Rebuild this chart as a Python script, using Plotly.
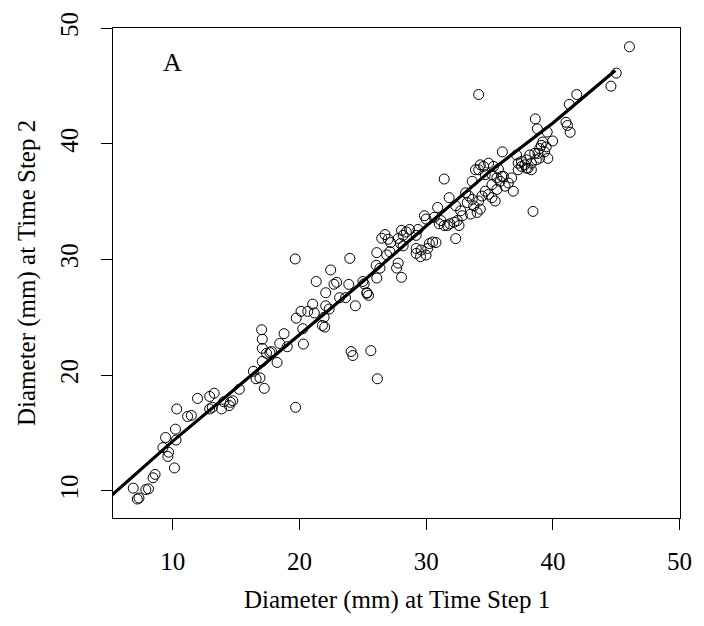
import plotly.graph_objects as go

# Diameter (mm) at time step 1 and time step 2
diam_step1 = [
    6.88, 7.20, 7.33, 7.87, 8.08, 8.44, 8.60, 10.13, 9.22, 9.43, 9.61, 9.67, 10.21, 10.26, 10.31,
    11.17, 11.46, 11.95, 12.91, 13.27, 12.91, 13.12, 13.85, 14.03, 14.55, 14.73, 14.45, 15.25, 16.36,
    16.57, 16.88, 17.22, 17.01, 17.06, 17.06, 17.06, 17.40, 17.66, 17.79, 18.23, 18.44, 18.78, 19.03,
    19.69, 19.74, 20.12, 20.26, 20.31, 20.65, 21.04, 21.17, 21.81, 21.99, 21.94, 22.07, 22.34, 22.07,
    23.16, 23.63, 24.07, 24.21, 25.63, 26.15, 24.41, 25.32,
    19.66, 23.97, 22.46, 21.32, 22.72, 22.93, 23.89, 25.00, 25.10, 25.32, 25.45, 26.05, 26.35, 26.10, 26.10,
    26.75, 26.49, 27.00, 27.19, 26.88, 27.13, 27.79, 28.18, 28.05, 28.43, 28.69, 27.97, 28.18, 27.66, 27.79, 28.05,
    29.35, 29.21, 29.21, 29.60, 29.21, 29.55, 29.99, 30.12, 30.25, 30.51, 30.77, 32.33, 30.64, 31.16, 31.03,
    31.42, 31.68, 31.86, 32.20, 32.46, 32.59, 32.85, 32.72, 29.86, 29.99, 30.90,
    34.14, 36.01, 34.14, 31.42, 31.81, 34.92, 35.31, 35.70, 35.19, 35.58, 35.83, 36.09, 36.22, 36.48, 36.74,
    36.87, 33.11, 33.36, 33.63, 33.24, 33.75, 34.14, 34.40, 34.66, 34.92, 35.19, 35.44, 35.58, 34.27, 34.02,
    33.50, 32.33, 33.63, 34.53, 34.66, 38.43, 33.89, 34.27, 35.96, 35.19,
    38.61, 38.77, 39.55, 39.98, 39.47, 39.60, 39.08, 39.20, 38.95, 38.56, 38.17, 37.91, 38.30, 37.78, 37.52,
    37.26, 38.69, 38.04, 37.13, 38.82, 38.30, 37.91, 37.52, 37.26, 38.95, 39.34,
    46.04, 45.00, 44.58, 41.88, 41.29, 41.03, 41.15, 41.36,
]
diam_step2 = [
    10.23, 9.29, 9.38, 10.11, 10.17, 11.13, 11.42, 11.98, 13.74, 14.61, 12.97, 13.34, 15.33, 14.39, 17.08,
    16.43, 16.52, 17.99, 18.16, 18.44, 17.08, 17.22, 17.08, 17.71, 17.65, 17.79, 17.37, 18.78, 20.34,
    19.69, 19.77, 18.86, 23.93, 23.11, 22.32, 21.19, 21.89, 21.95, 22.04, 21.10, 22.74, 23.59, 22.46,
    17.22, 24.93, 25.52, 24.02, 22.69, 25.52, 26.14, 25.38, 24.30, 24.16, 25.01, 26.00, 25.72, 27.13,
    26.70, 26.70, 22.04, 21.70, 22.12, 19.69, 26.00, 27.13,
    30.05, 30.10, 29.10, 28.10, 27.86, 28.03, 27.85, 28.10, 27.90, 27.08, 26.90, 29.50, 29.25, 30.60, 28.40,
    32.16, 31.84, 31.75, 31.47, 30.40, 30.68, 31.82, 32.10, 32.52, 32.38, 32.60, 31.38, 31.18, 29.26, 29.69, 28.46,
    32.60, 32.09, 30.96, 30.82, 30.53, 30.25, 30.39, 30.96, 31.38, 31.52, 31.47, 31.81, 33.65, 33.37, 33.09,
    32.94, 32.94, 33.09, 33.22, 33.37, 32.94, 33.79, 34.22, 33.79, 33.50, 34.50,
    44.27, 39.31, 37.76, 36.96, 35.35, 38.33, 38.05, 37.82, 37.34, 37.06, 36.76, 37.19, 36.34, 36.62, 37.06,
    35.91, 35.77, 35.49, 35.20, 34.92, 34.64, 35.06, 35.49, 35.91, 35.63, 35.35, 35.06, 36.06, 34.36, 34.07,
    33.93, 34.64, 36.76, 38.05, 37.34, 34.16, 37.76, 38.19, 37.19, 36.48,
    42.16, 41.30, 41.02, 40.25, 39.74, 38.75, 39.88, 40.16, 39.60, 39.18, 39.04, 38.62, 38.33, 38.19, 38.47,
    38.33, 38.62, 37.90, 39.04, 39.18, 37.76, 37.90, 38.05, 37.76, 38.76, 39.31,
    48.40, 46.12, 44.99, 44.27, 43.42, 41.87, 41.59, 41.00,
]

# Fitted curve
fit_x = [5.0, 10.0, 15.0, 20.0, 25.0, 30.0, 35.0, 40.0, 44.92]
fit_y = [9.45, 14.3, 18.9, 23.5, 28.1, 32.9, 37.6, 41.8, 46.35]

tick_vals = [10, 20, 30, 40, 50]
x_title = "Diameter (mm) at Time Step 1"
y_title = "Diameter (mm) at Time Step 2"
panel_label = "A"

FONT = "Liberation Serif, Times New Roman, serif"

fig = go.Figure()
fig.add_trace(go.Scatter(
    x=diam_step1, y=diam_step2, mode="markers",
    marker=dict(symbol="circle-open", size=10, color="black", line=dict(width=1, color="black")),
    showlegend=False, hoverinfo="x+y",
))
fig.add_trace(go.Scatter(
    x=fit_x, y=fit_y, mode="lines",
    line=dict(color="black", width=3.2),
    showlegend=False,
))

axis_common = dict(
    showgrid=False, zeroline=False, showline=True, linecolor="black", linewidth=1,
    mirror=True, ticks="outside", ticklen=11, tickwidth=1, tickcolor="black",
    tickvals=tick_vals, tickfont=dict(family=FONT, size=25, color="black"),
)
fig.update_xaxes(range=[5.28, 50.03], ticklabelstandoff=10, **axis_common)
fig.update_yaxes(range=[7.65, 50.02], tickangle=-90, ticklabelstandoff=13, **axis_common)

fig.add_annotation(x=10, y=47, xref="x", yref="y", text=panel_label, showarrow=False,
                   font=dict(family=FONT, size=26, color="black"))
fig.add_annotation(x=0.5, y=0, xref="paper", yref="paper", text=x_title, showarrow=False,
                   xanchor="center", yanchor="middle", yshift=-82,
                   font=dict(family=FONT, size=25, color="black"))
fig.add_annotation(x=0, y=0.5, xref="paper", yref="paper", text=y_title, showarrow=False,
                   textangle=-90, xanchor="center", yanchor="middle", xshift=-86,
                   font=dict(family=FONT, size=25, color="black"))

fig.update_layout(
    width=704, height=626,
    margin=dict(l=113, r=17, t=19, b=108),
    plot_bgcolor="white", paper_bgcolor="white",
)
fig.write_html(
    "out.html",
    config={"displayModeBar": False},
    post_script="document.body.style.margin='0px';document.body.style.overflow='hidden';",
)
